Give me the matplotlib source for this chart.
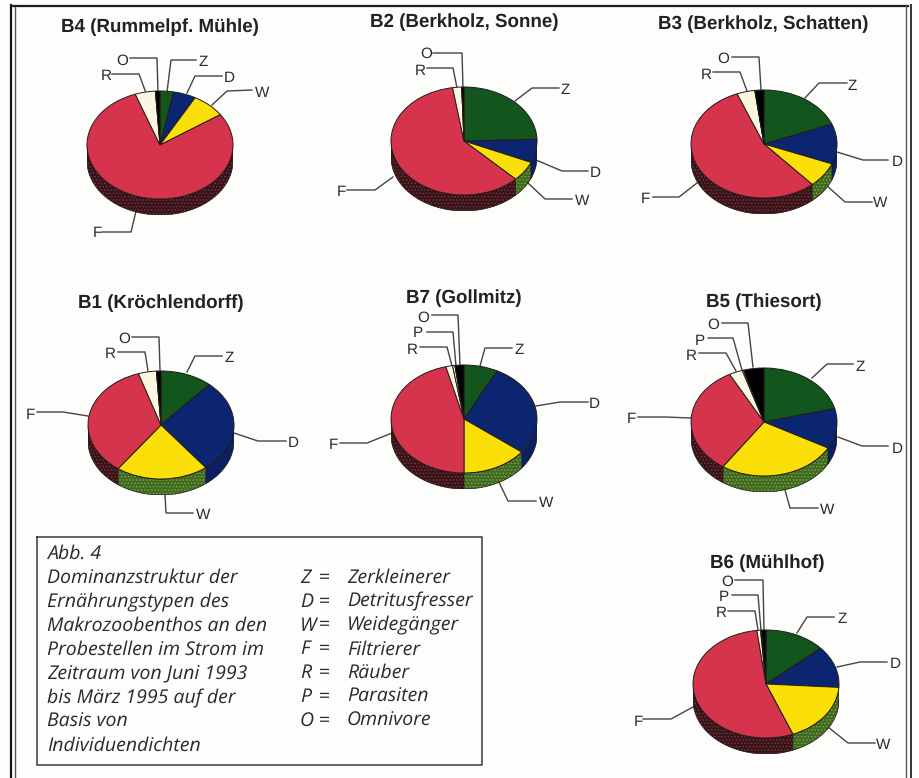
import numpy as np
import matplotlib
matplotlib.use("Agg")
from matplotlib import pyplot as plt

W, H = 920, 778

# feeding types, clockwise from twelve o'clock
types = ["Z", "D", "W", "F", "R", "P", "O"]

b4 = [3.0, 5.0, 7.5, 79.0, 4.5, 0.0, 1.0]
b2 = [24.5, 7.0, 6.0, 60.0, 2.0, 0.0, 0.5]
b3 = [19.0, 12.0, 7.5, 55.5, 4.0, 0.0, 2.0]
b1 = [11.5, 28.0, 20.5, 35.0, 4.0, 0.0, 1.0]
b7 = [7.5, 28.0, 14.5, 46.0, 1.5, 0.5, 2.0]
b5 = [21.0, 12.0, 26.5, 32.7, 3.0, 0.3, 4.5]
b6 = [13.5, 12.5, 18.0, 54.0, 0.8, 0.2, 1.0]

titles = ["B4 (Rummelpf. Mühle)", "B2 (Berkholz, Sonne)", "B3 (Berkholz, Schatten)",
          "B1 (Kröchlendorff)", "B7 (Gollmitz)", "B5 (Thiesort)", "B6 (Mühlhof)"]
sites = [b4, b2, b3, b1, b7, b5, b6]

caption = ["Abb. 4", "Dominanzstruktur der", "Ernährungstypen des", "Makrozoobenthos an den",
           "Probestellen im Strom im", "Zeitraum von Juni 1993", "bis März 1995 auf der",
           "Basis von", "Individuendichten"]
legend_keys = ["Z", "D", "W", "F", "R", "P", "O"]
legend_names = ["Zerkleinerer", "Detritusfresser", "Weidegänger", "Filtrierer",
                "Räuber", "Parasiten", "Omnivore"]

# layout, in pixels from the top left corner
centers = [(160, 145), (464, 141), (764, 144), (161, 425), (464, 419), (764, 422), (766, 684)]
title_pos = [(160, 27), (464, 22), (763, 24), (161, 303), (464, 298), (764, 302), (767, 563)]
RX, RY, DEPTH = 73, 54, 16

# label position and leader line for each pie
leaders = [
    {"O": ((122, 61), [(130, 58), (157, 58), (158, 93)]),
     "R": ((106, 76), [(112, 74), (139, 74), (146, 93)]),
     "Z": ((203, 62), [(196, 60), (171, 60), (167, 92)]),
     "D": ((229, 78), [(222, 76), (195, 76), (187, 93)]),
     "W": ((262, 93), [(252, 90), (227, 91), (212, 105)]),
     "F": ((97, 233), [(102, 232), (131, 232), (137, 207)])},
    {"O": ((426, 54), [(433, 53), (462, 53), (463, 88)]),
     "R": ((420, 71), [(427, 68), (453, 68), (457, 88)]),
     "Z": ((565, 90), [(559, 88), (532, 88), (515, 101)]),
     "D": ((595, 173), [(588, 171), (562, 171), (536, 160)]),
     "W": ((582, 201), [(572, 199), (545, 199), (528, 183)]),
     "F": ((341, 192), [(347, 190), (375, 190), (393, 177)])},
    {"O": ((723, 59), [(732, 57), (759, 57), (761, 90)]),
     "R": ((706, 75), [(713, 72), (740, 72), (747, 91)]),
     "Z": ((852, 86), [(847, 83), (819, 83), (805, 98)]),
     "D": ((897, 162), [(888, 160), (863, 160), (837, 152)]),
     "W": ((880, 203), [(872, 202), (845, 202), (826, 185)]),
     "F": ((645, 199), [(653, 197), (679, 197), (697, 183)])},
    {"O": ((124, 339), [(132, 337), (159, 337), (160, 370)]),
     "R": ((110, 354), [(118, 352), (145, 352), (148, 371)]),
     "Z": ((229, 358), [(222, 356), (195, 356), (187, 372)]),
     "D": ((293, 443), [(286, 441), (258, 441), (234, 433)]),
     "W": ((203, 515), [(193, 513), (166, 513), (165, 495)]),
     "F": ((30, 415), [(37, 412), (63, 412), (88, 416)])},
    {"O": ((423, 318), [(432, 315), (458, 315), (460, 366)]),
     "P": ((418, 333), [(427, 332), (453, 332), (456, 366)]),
     "R": ((412, 350), [(420, 347), (447, 347), (452, 366)]),
     "Z": ((519, 350), [(512, 348), (485, 348), (480, 366)]),
     "D": ((594, 404), [(588, 402), (560, 402), (536, 406)]),
     "W": ((546, 503), [(536, 501), (508, 501), (498, 480)]),
     "F": ((333, 445), [(340, 443), (367, 443), (392, 433)])},
    {"O": ((713, 325), [(722, 323), (748, 323), (753, 367)]),
     "P": ((700, 341), [(708, 338), (733, 338), (742, 370)]),
     "R": ((691, 356), [(699, 353), (726, 353), (736, 371)]),
     "Z": ((860, 367), [(853, 364), (827, 364), (812, 378)]),
     "D": ((897, 449), [(888, 446), (862, 446), (838, 437)]),
     "W": ((827, 510), [(818, 508), (790, 508), (785, 490)]),
     "F": ((631, 419), [(638, 417), (665, 417), (691, 418)])},
    {"O": ((727, 582), [(735, 580), (763, 580), (764, 630)]),
     "P": ((724, 597), [(732, 595), (758, 595), (761, 630)]),
     "R": ((721, 613), [(728, 611), (755, 611), (758, 630)]),
     "Z": ((842, 619), [(834, 617), (807, 617), (797, 633)]),
     "D": ((895, 664), [(887, 662), (860, 662), (837, 667)]),
     "W": ((883, 745), [(875, 743), (848, 743), (828, 727)]),
     "F": ((638, 722), [(643, 719), (671, 719), (693, 707)])},
]

top_colors = {"Z": "#12561d", "D": "#0b2570", "W": "#fbdf08", "F": "#d5344c",
              "R": "#fbf6e2", "P": "#fbf6e2", "O": "#000000"}
side_colors = {"Z": "#0c3d14", "D": "#0a2062", "W": "#3f6a22", "F": "#3a1218",
               "R": "#cfc9b0", "P": "#cfc9b0", "O": "#000000"}
# speckle on the textured rim
side_hatch = {"W": "#86a848", "F": "#6e4046"}

SANS = "Liberation Sans"
ITALIC = "Open Sans"
INK = "#2b2b2b"
CAPTION_SIZE = 14

plt.rcParams["hatch.linewidth"] = 0.6
plt.rcParams["text.hinting"] = "no_hinting"

fig = plt.figure(figsize=(W / 100, H / 100), dpi=100, facecolor="#fdfdfc")
page = fig.add_axes([0, 0, 1, 1])
page.set_xlim(0, W)
page.set_ylim(H, 0)
page.axis("off")


def draw_pie(values, center):
    cx, cy = center
    left = (cx - RX) / W
    bottom = 1 - (cy + RY + DEPTH) / H
    ax = fig.add_axes([left, bottom, 2 * RX / W, (2 * RY + DEPTH) / H], zorder=2)
    ax.patch.set_visible(False)
    drop = 2 * DEPTH / (2 * RY)

    # rim first, only the part of each slice facing the viewer
    shares = np.array(values) / np.sum(values) * 360
    ends = np.cumsum(shares)
    for name, a, b in zip(types, ends - shares, ends):
        a, b = max(a, 90), min(b, 270)
        if b <= a:
            continue
        th = np.radians(np.linspace(a, b, 40))
        xs = np.r_[np.sin(th), np.sin(th)[::-1]]
        ys = np.r_[np.cos(th), np.cos(th)[::-1] - drop]
        ax.fill(xs, ys, facecolor=side_colors[name], edgecolor="none", zorder=1)
        if name in side_hatch:
            ax.fill(xs, ys, facecolor="none", edgecolor=side_hatch[name],
                    hatch=".....", linewidth=0, zorder=1)
        ax.plot(xs, ys, color="#1c1414", lw=0.5, zorder=1.5)

    ax.pie(values, colors=[top_colors[t] for t in types], startangle=90, counterclock=False,
           radius=1, wedgeprops=dict(edgecolor="#221c18", linewidth=0.7, zorder=2))
    ax.set_aspect("auto")
    ax.set_xlim(-1, 1)
    ax.set_ylim(-1 - drop, 1)
    for p in ax.patches:
        p.set_clip_on(False)


for vals, c, title, tp, lead in zip(sites, centers, titles, title_pos, leaders):
    draw_pie(vals, c)
    page.text(tp[0], tp[1], title, family=SANS, fontweight="bold", fontsize=13.5,
              color="#222222", ha="center", va="center")
    for name, (pos, line) in lead.items():
        page.text(pos[0], pos[1], name, family=SANS, fontsize=11, color=INK,
                  ha="center", va="center")
        xs, ys = zip(*line)
        page.plot(xs, ys, color="#444444", lw=1.0, solid_joinstyle="round")

# caption box
page.plot([37, 482, 482, 37, 37], [537, 537, 765, 765, 537], color="#3a3a3a", lw=1.1)
for i, line in enumerate(caption):
    page.text(47, 554 + i * 24, line, family=ITALIC, style="italic", fontsize=CAPTION_SIZE,
              color=INK, ha="left", va="center")
for i, (k, n) in enumerate(zip(legend_keys, legend_names)):
    y = 578 + i * 23.8
    page.text(300, y, k, family=ITALIC, style="italic", fontsize=CAPTION_SIZE, color=INK,
              ha="left", va="center")
    page.text(324, y, "=", family=ITALIC, fontsize=CAPTION_SIZE, color=INK, ha="center", va="center")
    page.text(347, y, n, family=ITALIC, style="italic", fontsize=CAPTION_SIZE, color=INK,
              ha="left", va="center")

# page frame, left and right rules run off the bottom edge
page.plot([11.5, 11.5], [5, 778], color="#111111", lw=1.6)
page.plot([15.5, 15.5], [6, 778], color="#555555", lw=1.0)
page.plot([11, 908], [5.5, 5.5], color="#1c1c1c", lw=1.6)
page.plot([906, 906], [5, 778], color="#555555", lw=1.0)
page.plot([911, 911], [5, 778], color="#333333", lw=1.4)

fig.savefig("out.png", dpi=100, facecolor=fig.get_facecolor())
